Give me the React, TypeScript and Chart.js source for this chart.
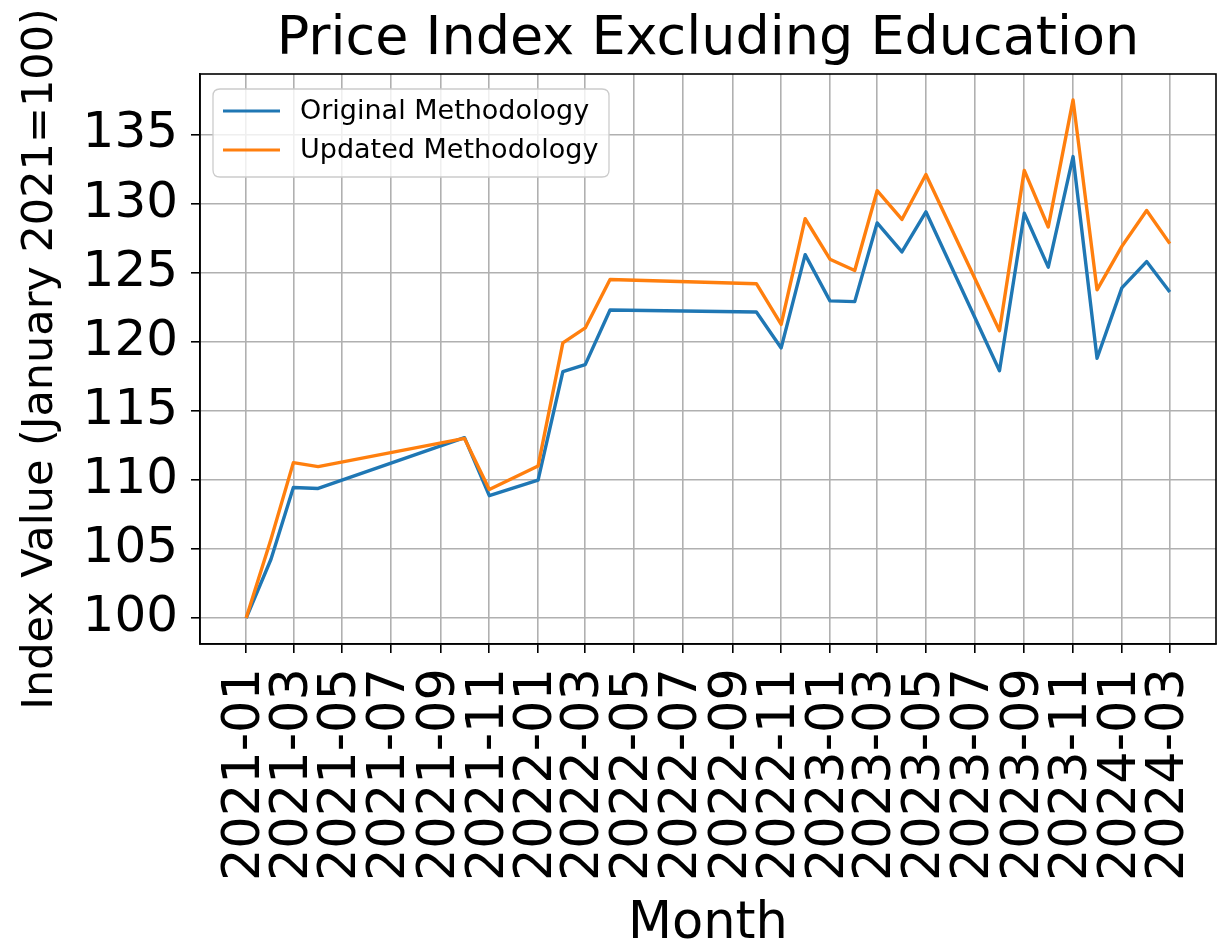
import React, { useEffect, useRef } from 'react';
import { Chart, registerables } from 'chart.js';

Chart.register(...registerables);

const FONT = '"DejaVu Sans", "Liberation Sans", sans-serif';

const months = [
  '2021-01', '2021-02', '2021-03', '2021-04', '2021-10', '2021-11',
  '2022-01', '2022-02', '2022-03', '2022-04', '2022-10', '2022-11', '2022-12',
  '2023-01', '2023-02', '2023-03', '2023-04', '2023-05', '2023-08', '2023-09',
  '2023-10', '2023-11', '2023-12', '2024-01', '2024-02', '2024-03',
];

const originalValues = [
  100, 104.26, 109.45, 109.38, 113.06, 108.86,
  109.98, 117.83, 118.34, 122.3, 122.15, 119.55, 126.3,
  122.96, 122.9, 128.6, 126.5, 129.4, 117.9, 129.3,
  125.4, 133.4, 118.8, 123.9, 125.8, 123.6,
];

const updatedValues = [
  100, 105.7, 111.25, 110.96, 113.0, 109.3,
  111.0, 119.92, 121.0, 124.5, 124.2, 121.25, 128.9,
  125.97, 125.15, 130.93, 128.85, 132.1, 120.8, 132.4,
  128.3, 137.5, 123.75, 126.9, 129.5, 127.1,
];

const tickLabels = [
  '2021-01', '2021-03', '2021-05', '2021-07', '2021-09', '2021-11',
  '2022-01', '2022-03', '2022-05', '2022-07', '2022-09', '2022-11',
  '2023-01', '2023-03', '2023-05', '2023-07', '2023-09', '2023-11',
  '2024-01', '2024-03',
];

const yTicks = [100, 105, 110, 115, 120, 125, 130, 135];

const seriesNames = ['Original Methodology', 'Updated Methodology'];
const seriesColors = ['#1f77b4', '#ff7f0e'];

function dayIndex(m: string): number {
  const [y, mo] = m.split('-').map(Number);
  return (Date.UTC(y, mo - 1, 1) - Date.UTC(2021, 0, 1)) / 86400000;
}

const xs = months.map(dayIndex);
const xSpan = xs[xs.length - 1] - xs[0];
const xMin = xs[0] - 0.05 * xSpan;
const xMax = xs[xs.length - 1] + 0.05 * xSpan;
const allY = [...originalValues, ...updatedValues];
const yLo = Math.min(...allY);
const yHi = Math.max(...allY);
const yMin = yLo - 0.05 * (yHi - yLo);
const yMax = yHi + 0.05 * (yHi - yLo);

const tickMap = new Map<number, string>(tickLabels.map((l) => [dayIndex(l), l]));

const framePlugin = {
  id: 'mplFrame',
  afterDatasetsDraw(chart: any) {
    const { ctx, chartArea } = chart;
    ctx.save();
    ctx.strokeStyle = '#000';
    ctx.lineWidth = 1.6;
    ctx.strokeRect(chartArea.left, chartArea.top, chartArea.right - chartArea.left, chartArea.bottom - chartArea.top);
    ctx.restore();
  },
};

const legendPlugin = {
  id: 'mplLegend',
  afterDraw(chart: any) {
    const { ctx, chartArea } = chart;
    const x = chartArea.left + 13;
    const y = chartArea.top + 15;
    const w = 396;
    const h = 88;
    const r = 7;
    ctx.save();
    ctx.beginPath();
    ctx.moveTo(x + r, y);
    ctx.lineTo(x + w - r, y);
    ctx.quadraticCurveTo(x + w, y, x + w, y + r);
    ctx.lineTo(x + w, y + h - r);
    ctx.quadraticCurveTo(x + w, y + h, x + w - r, y + h);
    ctx.lineTo(x + r, y + h);
    ctx.quadraticCurveTo(x, y + h, x, y + h - r);
    ctx.lineTo(x, y + r);
    ctx.quadraticCurveTo(x, y, x + r, y);
    ctx.closePath();
    ctx.fillStyle = 'rgba(255,255,255,0.8)';
    ctx.fill();
    ctx.strokeStyle = '#cccccc';
    ctx.lineWidth = 1.3;
    ctx.stroke();
    ctx.font = `27px ${FONT}`;
    ctx.textBaseline = 'middle';
    ctx.textAlign = 'left';
    chart.data.datasets.forEach((ds: any, i: number) => {
      const ly = y + 22 + i * 39;
      ctx.strokeStyle = ds.borderColor;
      ctx.lineWidth = 3.2;
      ctx.beginPath();
      ctx.moveTo(x + 10, ly);
      ctx.lineTo(x + 67, ly);
      ctx.stroke();
      ctx.fillStyle = '#000';
      ctx.fillText(ds.label, x + 87, ly + 1);
    });
    ctx.restore();
  },
};

export default function App() {
  const canvasRef = useRef<HTMLCanvasElement | null>(null);

  useEffect(() => {
    document.body.style.margin = '0';
    const canvas = canvasRef.current;
    if (!canvas) return;
    const chart = new Chart(canvas, {
      type: 'line',
      data: {
        datasets: [
          {
            label: seriesNames[0],
            data: xs.map((x, i) => ({ x, y: originalValues[i] })),
            borderColor: seriesColors[0],
            backgroundColor: seriesColors[0],
            borderWidth: 3.4,
            pointRadius: 0,
            tension: 0,
            fill: false,
            borderJoinStyle: 'round',
            order: 1,
          },
          {
            label: seriesNames[1],
            data: xs.map((x, i) => ({ x, y: updatedValues[i] })),
            borderColor: seriesColors[1],
            backgroundColor: seriesColors[1],
            borderWidth: 3.4,
            pointRadius: 0,
            tension: 0,
            fill: false,
            borderJoinStyle: 'round',
            order: 0,
          },
        ],
      },
      options: {
        animation: false,
        responsive: false,
        devicePixelRatio: 1,
        layout: { padding: { left: 0, right: 8, top: 0, bottom: 0 } },
        plugins: {
          legend: { display: false },
          tooltip: { enabled: false },
          title: {
            display: true,
            text: 'Price Index Excluding Education',
            color: '#000',
            fullSize: false,
            font: { family: FONT, size: 54, weight: 'normal', lineHeight: 1 },
            padding: { top: 13, bottom: 7 },
          },
        },
        scales: {
          x: {
            type: 'linear',
            min: xMin,
            max: xMax,
            afterBuildTicks: (scale: any) => {
              scale.ticks = tickLabels.map((l) => ({ value: dayIndex(l) }));
            },
            afterFit: (scale: any) => {
              scale.height = 947 - 644;
              scale.paddingLeft = 0;
              scale.paddingRight = 0;
            },
            ticks: {
              autoSkip: false,
              minRotation: 90,
              maxRotation: 90,
              padding: 15,
              color: '#000',
              font: { family: FONT, size: 51 },
              callback: (v: any) => tickMap.get(Number(v)) ?? '',
            },
            grid: {
              color: '#b0b0b0',
              lineWidth: 1.6,
              drawTicks: true,
              tickLength: 9,
              tickColor: '#000',
              tickWidth: 1.6,
            },
            border: { display: true, color: '#000', width: 1.6 },
            title: {
              display: true,
              text: 'Month',
              color: '#000',
              font: { family: FONT, size: 51, lineHeight: 0.8 },
              padding: { top: 0, bottom: 2 },
            },
          },
          y: {
            type: 'linear',
            min: yMin,
            max: yMax,
            afterBuildTicks: (scale: any) => {
              scale.ticks = yTicks.map((v) => ({ value: v }));
            },
            afterFit: (scale: any) => {
              scale.width = 200;
            },
            ticks: {
              padding: 13,
              color: '#000',
              font: { family: FONT, size: 50 },
              callback: (v: any) => String(v),
            },
            grid: {
              color: '#b0b0b0',
              lineWidth: 1.6,
              drawTicks: true,
              tickLength: 9,
              tickColor: '#000',
              tickWidth: 1.6,
            },
            border: { display: true, color: '#000', width: 1.6 },
            title: {
              display: true,
              text: 'Index Value (January 2021=100)',
              color: '#000',
              font: { family: FONT, size: 43, lineHeight: 1 },
              padding: { top: 19, bottom: 0 },
            },
          },
        },
      },
      plugins: [framePlugin, legendPlugin],
    } as any);
    return () => chart.destroy();
  }, []);

  return (
    <div style={{ position: 'absolute', left: 0, top: 0, width: 1224, height: 947 }}>
      <canvas ref={canvasRef} width={1224} height={947} />
    </div>
  );
}
